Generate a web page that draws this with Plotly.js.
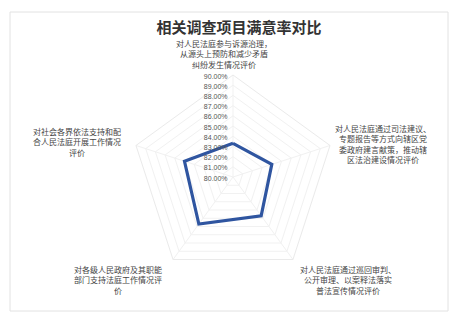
<!DOCTYPE html>
<html>
<head>
<meta charset="utf-8">
<script src="https://cdn.plot.ly/plotly-3.0.1.min.js"></script>
<style>html,body{margin:0;padding:0;background:#fff;}#chart{width:450px;height:314px;}</style>
</head>
<body>
<div id="chart"></div>
<script>
var chartTitle = "相关调查项目满意率对比";
var categories = [
  "对人民法庭参与诉源治理，<br>从源头上预防和减少矛盾<br>纠纷发生情况评价",
  "对人民法庭通过司法建议、<br>专题报告等方式向辖区党<br>委政府建言献策，推动辖<br>区法治建设情况评价",
  "对人民法庭通过巡回审判、<br>公开审理、以案释法落实<br>普法宣传情况评价",
  "对各级人民政府及其职能<br>部门支持法庭工作情况评<br>价",
  "对社会各界依法支持和配<br>合人民法庭开展工作情况<br>评价"
];
var satisfaction = [83.3, 84.0, 84.7, 85.7, 85.0];
var radialRange = [80, 90];

// label placement (paper px) for each category, layout only
var labelPos = [[224, 54], [383, 143.5], [348, 280], [118, 280], [77, 142]];

var W = 450, H = 314;
var cx = 233, cy = 177, R = 102;

var trace = {
  type: 'scatterpolar',
  mode: 'lines',
  r: satisfaction.concat([satisfaction[0]]),
  theta: categories.concat([categories[0]]),
  line: {color: '#2f55a0', width: 3.2},
  hoverinfo: 'none'
};

var annotations = categories.map(function(c, i) {
  return {
    text: c, showarrow: false, xref: 'paper', yref: 'paper',
    x: labelPos[i][0] / W, y: 1 - labelPos[i][1] / H,
    xanchor: 'center', yanchor: 'middle', align: 'center',
    font: {family: 'Noto Sans CJK SC', size: 8, color: '#444'}
  };
});

var layout = {
  width: W, height: H,
  margin: {l: 0, r: 0, t: 0, b: 0},
  paper_bgcolor: '#fff',
  showlegend: false,
  title: {
    text: '<b>' + chartTitle + '</b>',
    x: 239 / W, y: 1 - 28 / H, xanchor: 'center', yanchor: 'middle',
    font: {family: 'Noto Sans CJK SC', size: 15, color: '#333'}
  },
  polar: {
    domain: {x: [(cx - R) / W, (cx + R) / W], y: [(H - cy - R) / H, (H - cy + R) / H]},
    gridshape: 'linear',
    bgcolor: 'rgba(0,0,0,0)',
    radialaxis: {
      range: radialRange, tick0: 80, dtick: 1,
      angle: 90, side: 'counterclockwise',
      tickformat: '.2f', ticksuffix: '%',
      tickfont: {family: 'Liberation Sans', size: 7, color: '#555'},
      showline: false, ticks: '',
      gridcolor: '#f1f1f1'
    },
    angularaxis: {
      direction: 'clockwise', rotation: 90,
      showticklabels: false, ticks: '',
      gridcolor: '#f1f1f1', linecolor: '#eaeaea'
    }
  },
  annotations: annotations,
  shapes: [{
    type: 'rect', xref: 'paper', yref: 'paper',
    x0: 10 / W, x1: 448 / W, y0: 1 - 311 / H, y1: 1 - 12 / H,
    line: {color: '#e2e2e2', width: 1}
  }]
};

Plotly.newPlot('chart', [trace], layout, {staticPlot: true, displayModeBar: false});
</script>
</body>
</html>
